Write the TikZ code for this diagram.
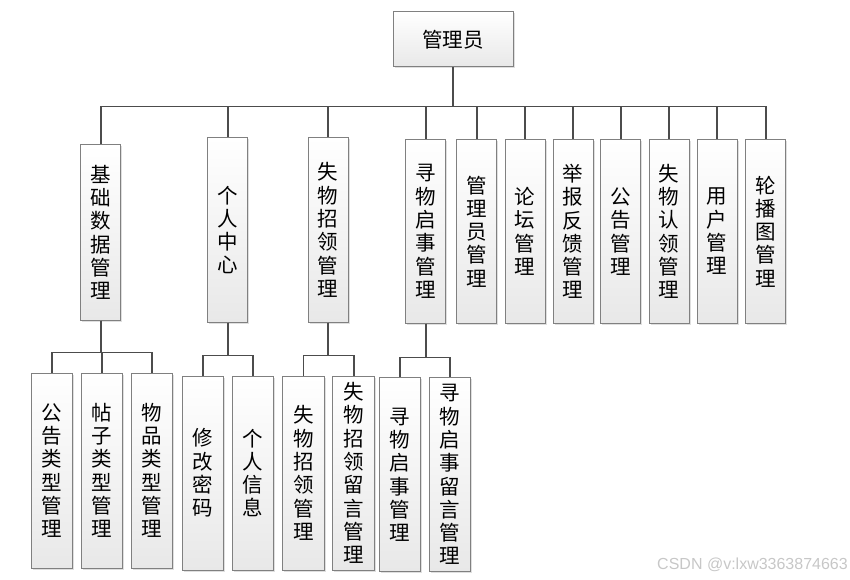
\documentclass[tikz,border=0pt]{standalone}
\usepackage{fontspec}
\newfontfamily\cjk{Noto Sans CJK SC}
\newfontfamily\marksans{Liberation Sans}
\usepackage{tikz}
\usetikzlibrary{calc,positioning,shadows}

\begin{document}
\begin{tikzpicture}[x=1pt,y=-1pt]
\tikzstyle{box}=[draw=black!50, line width=1pt, top color=white, bottom color=black!9,
  drop shadow={opacity=0.25, shadow xshift=1.5pt, shadow yshift=-1.5pt},
  inner sep=0pt, align=center, font=\cjk\fontsize{20.5}{23.3}\selectfont]%
\tikzstyle{mod}=[box, minimum width=40pt, minimum height=183pt]
\tikzstyle{sub}=[box, minimum width=41.5pt, minimum height=194pt]
\tikzstyle{link}=[draw=black!70, line width=1.6pt]
\useasboundingbox (0,0) rectangle (850,580);
% top
\node[box, minimum width=120pt, minimum height=55pt] (admin) at (453,39.5) {管理员};
% modules
\node[mod, minimum height=175pt] (m1) at (100.7,232.5) {基\\础\\数\\据\\管\\理};
\node[mod, minimum height=184pt] (m2) at (227.7,230) {个\\人\\中\\心};
\node[mod, minimum height=184pt] (m3) at (328,230) {失\\物\\招\\领\\管\\理};
\node[mod] (m4) at (425.7,231.5) {寻\\物\\启\\事\\管\\理};
\node[mod] (m5) at (476.7,231.5) {管\\理\\员\\管\\理};
\node[mod] (m6) at (525,231.5) {论\\坛\\管\\理};
\node[mod] (m7) at (573,231.5) {举\\报\\反\\馈\\管\\理};
\node[mod] (m8) at (620.7,231.5) {公\\告\\管\\理};
\node[mod] (m9) at (669,231.5) {失\\物\\认\\领\\管\\理};
\node[mod] (m10) at (717,231.5) {用\\户\\管\\理};
\node[mod] (m11) at (765.7,231.5) {轮\\播\\图\\管\\理};
% sub modules
\node[sub, minimum height=195pt] (s1) at (52,470.5) {公\\告\\类\\型\\管\\理};
\node[sub, minimum height=195pt] (s2) at (102.2,470.5) {帖\\子\\类\\型\\管\\理};
\node[sub, minimum height=195pt] (s3) at (152.2,470.5) {物\\品\\类\\型\\管\\理};
\node[sub] (s4) at (203,473) {修\\改\\密\\码};
\node[sub] (s5) at (253,473) {个\\人\\信\\息};
\node[sub] (s6) at (303.5,473) {失\\物\\招\\领\\管\\理};
\node[sub] (s7) at (353.7,473) {失\\物\\招\\领\\留\\言\\管\\理};
\node[sub] (s8) at (400,474.7) {寻\\物\\启\\事\\管\\理};
\node[sub] (s9) at (449.9,474.7) {寻\\物\\启\\事\\留\\言\\管\\理};
% connectors
\foreach \n in {m1,m2,m3,m4,m5,m6,m7,m8,m9,m10,m11}{
\draw[link] (admin.south) -- ++(0,39) -| (\n.north);
}
\foreach \n in {s1,s2,s3}{\draw[link] (m1.south) -- ++(0,32) -| (\n.north);}
\foreach \n in {s4,s5}{\draw[link] (m2.south) -- ++(0,33) -| (\n.north);}
\foreach \n in {s6,s7}{\draw[link] (m3.south) -- ++(0,33) -| (\n.north);}
\foreach \n in {s8,s9}{\draw[link] (m4.south) -- ++(0,34) -| (\n.north);}
\node[anchor=east, text=black!22, font=\marksans\fontsize{16}{18}\selectfont, inner sep=0pt] (mark) at (848,565) {CSDN @v:lxw3363874663};
\end{tikzpicture}
\end{document}
